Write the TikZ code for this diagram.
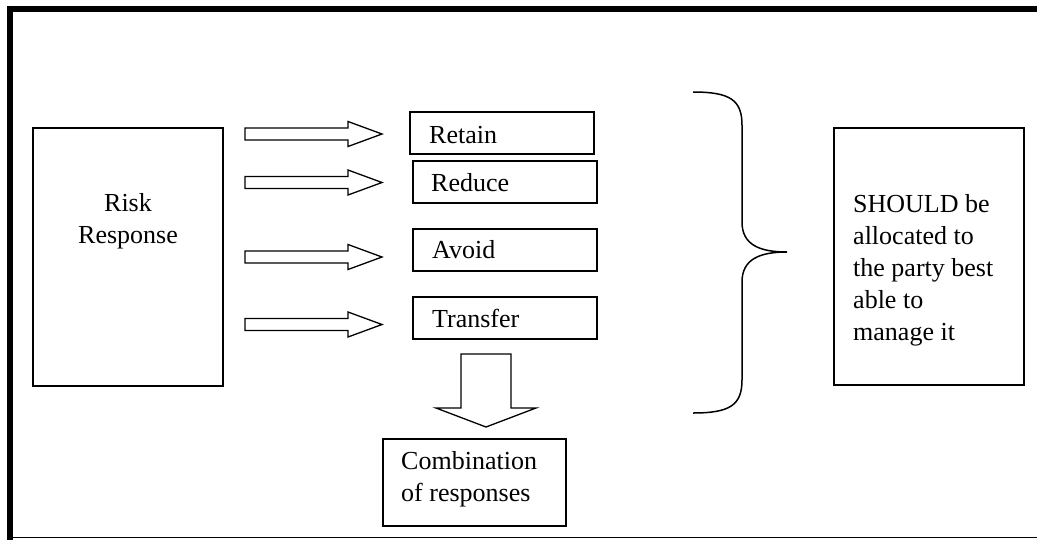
\documentclass[tikz,border=0pt]{standalone}
\usepackage{fontspec}
\setmainfont{Liberation Serif}
\begin{document}
\begin{tikzpicture}[x=1pt,y=-1pt,
  box/.style={draw=black, line width=1.6pt, inner sep=0pt, minimum width=184pt, minimum height=42pt},
  txt/.style={inner sep=0pt, font=\fontsize{26}{32}\selectfont},
  blockarrow/.style={draw=black, line width=1.3pt, line join=miter},
  frame/.style={draw=black, line cap=rect}
]
\useasboundingbox (0,0) rectangle (1037,539);
% frame
\draw[frame, line width=6pt] (10,9) -- (1040,9);
\draw[frame, line width=6pt] (10,9) -- (10,537);
\draw[draw=black, line width=1.5pt] (7,537.5) -- (1037,537.5);

% boxes
\node[box, minimum width=190pt, minimum height=258pt] (risk) at (128,257) {};
\node[box] (retain) at (502,133) {};
\node[box] (reduce) at (505,182) {};
\node[box] (avoid) at (505,250) {};
\node[box] (transfer) at (505,318) {};
\node[box, minimum width=183pt, minimum height=87pt] (comb) at (474.5,482.5) {};
\node[box, minimum width=190pt, minimum height=257pt] (should) at (929,256.5) {};

% texts
\node[txt, align=center] (risktxt) at (128,221.5) {Risk\\Response};
\node[txt, anchor=base west] (retaintxt) at (429,143) {Retain};
\node[txt, anchor=base west] (reducetxt) at (431,191) {Reduce};
\node[txt, anchor=base west] (avoidtxt) at (432,258) {Avoid};
\node[txt, anchor=base west] (transfertxt) at (432,327) {Transfer};
\node[txt, anchor=west, align=left] (combtxt) at (401,479) {Combination\\of responses};
\node[txt, anchor=west, align=left] (shouldtxt) at (853,270) {SHOULD be\\allocated to\\the party best\\able to\\manage it};

% horizontal block arrows
\foreach \c/\n in {134/a1,182.5/a2,257/a3,324.5/a4}{
  \draw[blockarrow] (245,\c-6) -- (348,\c-6) -- (348,\c-12.5) -- (382,\c)
     -- (348,\c+12.5) -- (348,\c+6) -- (245,\c+6) -- cycle;
}
% down block arrow
\draw[blockarrow] (461,354) -- (511,354) -- (511,408) -- (536,408) -- (486,427)
   -- (436,408) -- (461,408) -- cycle;

% brace
\draw[line width=1.5pt] (693,92) .. controls (730,92) and (742,100) .. (742,125)
  -- (742,222) .. controls (742,245) and (760,252) .. (787,252)
  .. controls (760,252) and (742,259) .. (742,282)
  -- (742,380) .. controls (742,405) and (730,413) .. (693,413);
\end{tikzpicture}
\end{document}
